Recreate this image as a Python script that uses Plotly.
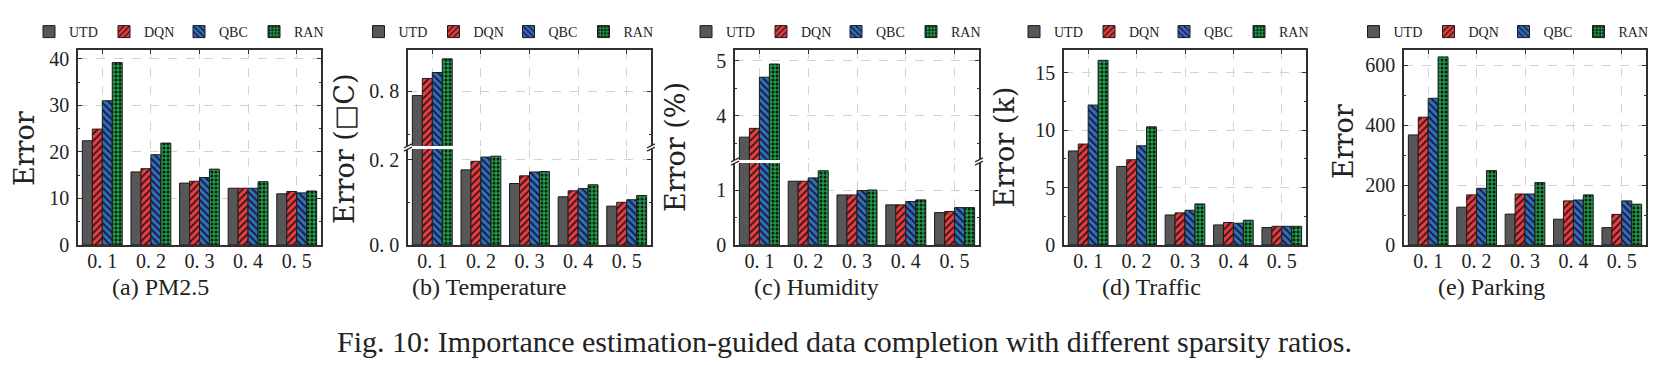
import plotly.graph_objects as go

# ---------------- data ----------------
ratios = ["0. 1", "0. 2", "0. 3", "0. 4", "0. 5"]
methods = ["UTD", "DQN", "QBC", "RAN"]

pm25_utd = [22.4, 15.7, 13.3, 12.2, 11.0]
pm25_dqn = [24.9, 16.4, 13.7, 12.2, 11.5]
pm25_qbc = [31.0, 19.4, 14.5, 12.2, 11.2]
pm25_ran = [39.2, 21.9, 16.3, 13.6, 11.6]

temp_utd = [0.790, 0.176, 0.144, 0.113, 0.091]
temp_dqn = [0.830, 0.196, 0.162, 0.127, 0.100]
temp_qbc = [0.844, 0.206, 0.171, 0.132, 0.106]
temp_ran = [0.876, 0.208, 0.172, 0.141, 0.116]

hum_utd = [3.61, 1.16, 0.91, 0.73, 0.59]
hum_dqn = [3.77, 1.16, 0.91, 0.73, 0.61]
hum_qbc = [4.70, 1.22, 0.99, 0.79, 0.68]
hum_ran = [4.94, 1.35, 1.00, 0.82, 0.68]

traffic_utd = [8.2, 6.85, 2.62, 1.75, 1.52]
traffic_dqn = [8.8, 7.43, 2.80, 1.96, 1.63]
traffic_qbc = [12.2, 8.65, 3.03, 1.90, 1.63]
traffic_ran = [16.1, 10.3, 3.58, 2.16, 1.63]

park_utd = [367, 126, 103, 86, 58]
park_dqn = [426, 167, 170, 147, 102]
park_qbc = [489, 189, 170, 150, 147]
park_ran = [627, 248, 208, 167, 136]

subtitles = ["(a) PM2.5", "(b) Temperature", "(c) Humidity", "(d) Traffic", "(e) Parking"]
ytitles = ["Error", "Error (\u25a1C)", "Error (%)", "Error (k)", "Error"]
caption = "Fig. 10: Importance estimation-guided data completion with different sparsity ratios."

# ---------------- styling ----------------
W, H = 1670, 365
SERIF = "Liberation Serif, Times New Roman, serif"
WIDE_SERIF = "DejaVu Serif, serif"
styles = {
    "UTD": dict(color="#575757", pattern=dict(shape="")),
    "DQN": dict(color="#ee3b40", pattern=dict(shape="/", bgcolor="#ee3b40", fgcolor="#2a1a1a",
                                               size=5, solidity=0.35, fillmode="replace")),
    "QBC": dict(color="#2f6ec2", pattern=dict(shape="\\", bgcolor="#2f6ec2", fgcolor="#1a1a2a",
                                               size=5, solidity=0.35, fillmode="replace")),
    "RAN": dict(color="#1f9c4b", pattern=dict(shape=".", bgcolor="#1f9c4b", fgcolor="#0d1a10",
                                               size=4, solidity=0.45, fillmode="replace")),
}

def px_x(v):
    return v / W

def px_y(v):
    return 1 - v / H

fig = go.Figure()

def add_group(series, xa, ya, legend, showlegend):
    for name, vals in zip(methods, series):
        st = styles[name]
        fig.add_trace(go.Bar(
            x=ratios, y=vals, name=name, xaxis=xa, yaxis=ya,
            legend=legend, showlegend=showlegend,
            marker=dict(color=st["color"], pattern=st["pattern"],
                        line=dict(color="#1c1c1c", width=1)),
        ))

add_group([pm25_utd, pm25_dqn, pm25_qbc, pm25_ran], "x", "y", "legend", True)
add_group([temp_utd, temp_dqn, temp_qbc, temp_ran], "x2", "y2", "legend2", True)
add_group([temp_utd, temp_dqn, temp_qbc, temp_ran], "x3", "y3", "legend2", False)
add_group([hum_utd, hum_dqn, hum_qbc, hum_ran], "x4", "y4", "legend3", True)
add_group([hum_utd, hum_dqn, hum_qbc, hum_ran], "x5", "y5", "legend3", False)
add_group([traffic_utd, traffic_dqn, traffic_qbc, traffic_ran], "x6", "y6", "legend4", True)
add_group([park_utd, park_dqn, park_qbc, park_ran], "x7", "y7", "legend5", True)

tickfont = dict(family=SERIF, size=20, color="#222222")
LINE = "#303030"
GRID = "#d2d2d2"

def xaxis(dom, anchor, side="bottom", labels=True, mirror=True):
    return dict(domain=[px_x(dom[0]), px_x(dom[1])], anchor=anchor, type="category",
                side=side, showline=True, linecolor=LINE, linewidth=1.5,
                mirror="ticks" if mirror else False,
                ticks="inside", ticklen=4, tickcolor=LINE,
                showgrid=True, gridcolor=GRID, griddash="dash", gridwidth=1,
                showticklabels=labels, tickfont=tickfont, ticklabelstandoff=-3,
                fixedrange=True)

def yaxis(dom, anchor, rng, tv, tt, minor_dtick, minor_tick0=0):
    return dict(domain=[px_y(dom[1]), px_y(dom[0])], anchor=anchor, range=rng,
                tickvals=tv, ticktext=tt, showline=True, linecolor=LINE, linewidth=1.5,
                mirror="ticks", ticks="inside", ticklen=4, tickcolor=LINE,
                showgrid=True, gridcolor=GRID, griddash="dash", gridwidth=1,
                zeroline=False, tickfont=tickfont, ticklabelstandoff=3,
                minor=dict(ticks="inside", ticklen=2.5, tickcolor=LINE,
                           dtick=minor_dtick, tick0=minor_tick0, showgrid=False),
                fixedrange=True)

TOP, BOT = 42, 237
XA = [70, 313]
XB = [400, 643]
XC = [727, 971]
XD = [1056, 1298]
XE = [1396, 1638]
B_BREAK = 139.5
C_BREAK = 153.5
GAP = 1.6

layout = dict(
    width=W, height=H, margin=dict(l=0, r=0, t=0, b=0, autoexpand=False),
    paper_bgcolor="white", plot_bgcolor="white",
    barmode="group", bargap=0.18, bargroupgap=0.0,
    font=dict(family=SERIF, color="#222222"),
)
layout["xaxis"] = xaxis(XA, "y")
layout["yaxis"] = yaxis([TOP, BOT], "x", [0, 41.9], [0, 10, 20, 30, 40],
                        ["0", "10", "20", "30", "40"], 5, 5)
# (b) broken axis
layout["xaxis2"] = xaxis(XB, "y2", mirror=False)
layout["yaxis2"] = yaxis([B_BREAK + GAP, BOT], "x2", [0, (BOT - B_BREAK - GAP) / 427.0],
                         [0.0, 0.2], ["0. 0", "0. 2"], 0.1, 0.1)
layout["xaxis3"] = xaxis(XB, "y3", side="top", labels=False, mirror=False)
layout["yaxis3"] = yaxis([TOP, B_BREAK - GAP], "x3",
                         [0.8 - (B_BREAK - GAP - 83.3) / 427.0, 0.8 + (83.3 - TOP) / 427.0],
                         [0.8], ["0. 8"], 0.1, 0.7)
# (c) broken axis
layout["xaxis4"] = xaxis(XC, "y4", mirror=False)
layout["yaxis4"] = yaxis([C_BREAK + GAP, BOT], "x4", [0, (BOT - C_BREAK - GAP) / 55.0],
                         [0, 1], ["0", "1"], 0.5, 0.5)
layout["xaxis5"] = xaxis(XC, "y5", side="top", labels=False, mirror=False)
layout["yaxis5"] = yaxis([TOP, C_BREAK - GAP], "x5",
                         [4 - (C_BREAK - GAP - 107.7) / 55.0, 5 + (52.7 - TOP) / 55.0],
                         [4, 5], ["4", "5"], 0.5, 3.5)
layout["xaxis6"] = xaxis(XD, "y6")
layout["yaxis6"] = yaxis([TOP, BOT], "x6", [0, 17.0], [0, 5, 10, 15],
                         ["0", "5", "10", "15"], 2.5, 2.5)
layout["xaxis7"] = xaxis(XE, "y7")
layout["yaxis7"] = yaxis([TOP, BOT], "x7", [0, 650], [0, 200, 400, 600],
                         ["0", "200", "400", "600"], 100, 100)

# legends, one per panel
legend_left = [21, 350.5, 678, 1006, 1345.5]
leg_names = ["legend", "legend2", "legend3", "legend4", "legend5"]
for nm, lx in zip(leg_names, legend_left):
    layout[nm] = dict(orientation="h", x=px_x(lx), xanchor="left", y=px_y(24), yanchor="middle",
                      font=dict(family=SERIF, size=14, color="#222222"),
                      entrywidth=30, entrywidthmode="pixels", itemwidth=30,
                      bgcolor="rgba(0,0,0,0)", borderwidth=0, itemclick=False,
                      itemdoubleclick=False)

fig.update_layout(**layout)

# annotations: y titles, subtitles, caption
ytitle_x = [16, 336, 667, 996, 1335]
ytitle_y = [141, 141, 139, 139.5, 134]
sub_x = [152, 481, 808, 1143, 1483]
anns = []
for t, xx, yy in zip(ytitles, ytitle_x, ytitle_y):
    anns.append(dict(text=t, x=px_x(xx), y=px_y(yy), xref="paper", yref="paper",
                     textangle=-90, showarrow=False, xanchor="center", yanchor="middle",
                     font=dict(family=WIDE_SERIF, size=27, color="#222222")))
for t, xx in zip(subtitles, sub_x):
    anns.append(dict(text=t, x=px_x(xx), y=px_y(279), xref="paper", yref="paper",
                     showarrow=False, xanchor="center", yanchor="middle",
                     font=dict(family=SERIF, size=24, color="#222222")))
anns.append(dict(text=caption, x=px_x(836), y=px_y(333), xref="paper", yref="paper",
                 showarrow=False, xanchor="center", yanchor="middle",
                 font=dict(family=SERIF, size=30, color="#222222")))
fig.update_layout(annotations=anns)

# break marks on broken axes
shapes = []
for (xl, xr), brk in [(XB, B_BREAK), (XC, C_BREAK)]:
    for xe in (xl, xr):
        for dy in (-1.6, 1.6):
            shapes.append(dict(type="line", xref="paper", yref="paper",
                               x0=px_x(xe - 4), x1=px_x(xe + 4),
                               y0=px_y(brk + dy + 2), y1=px_y(brk + dy - 2),
                               line=dict(color=LINE, width=1.2)))
fig.update_layout(shapes=shapes)

fig.write_html("out.html")
